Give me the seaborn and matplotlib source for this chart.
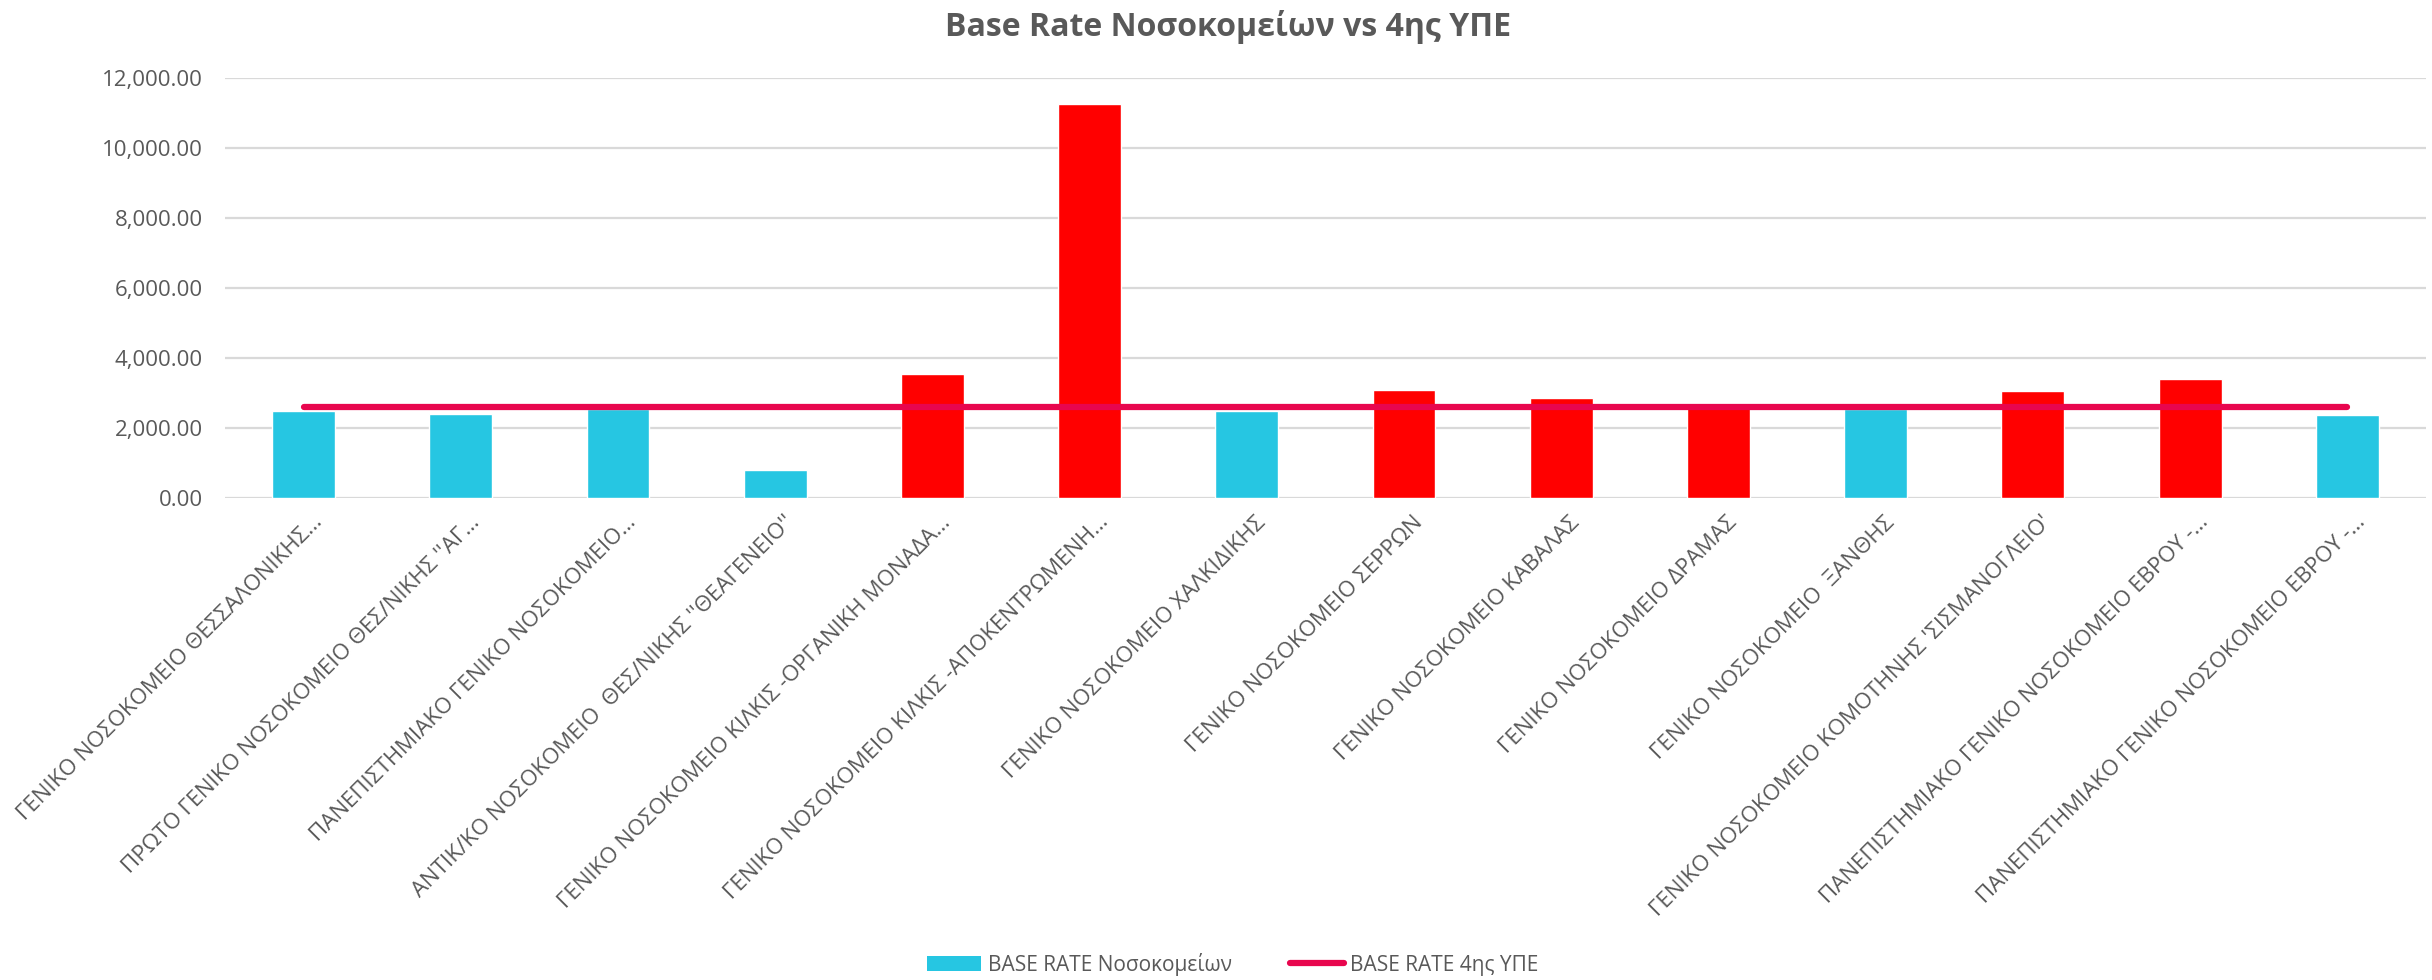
import numpy as np
import pandas as pd
import seaborn as sns
import matplotlib.pyplot as plt
from matplotlib.patches import Patch
from matplotlib.lines import Line2D
from matplotlib.transforms import ScaledTranslation

# Hospital names (as truncated on the axis) and their base rates
hospitals = [
    "ΓΕΝΙΚΟ ΝΟΣΟΚΟΜΕΙΟ ΘΕΣΣΑΛΟΝΙΚΗΣ…",
    "ΠΡΩΤΟ ΓΕΝΙΚΟ ΝΟΣΟΚΟΜΕΙΟ ΘΕΣ/ΝΙΚΗΣ ''ΑΓ…",
    "ΠΑΝΕΠΙΣΤΗΜΙΑΚΟ ΓΕΝΙΚΟ ΝΟΣΟΚΟΜΕΙΟ…",
    "ΑΝΤΙΚ/ΚΟ ΝΟΣΟΚΟΜΕΙΟ  ΘΕΣ/ΝΙΚΗΣ ''ΘΕΑΓΕΝΕΙΟ''",
    "ΓΕΝΙΚΟ ΝΟΣΟΚΟΜΕΙΟ ΚΙΛΚΙΣ -ΟΡΓΑΝΙΚΗ ΜΟΝΑΔΑ…",
    "ΓΕΝΙΚΟ ΝΟΣΟΚΟΜΕΙΟ ΚΙΛΚΙΣ -ΑΠΟΚΕΝΤΡΩΜΕΝΗ…",
    "ΓΕΝΙΚΟ ΝΟΣΟΚΟΜΕΙΟ ΧΑΛΚΙΔΙΚΗΣ",
    "ΓΕΝΙΚΟ ΝΟΣΟΚΟΜΕΙΟ ΣΕΡΡΩΝ",
    "ΓΕΝΙΚΟ ΝΟΣΟΚΟΜΕΙΟ ΚΑΒΑΛΑΣ",
    "ΓΕΝΙΚΟ ΝΟΣΟΚΟΜΕΙΟ ΔΡΑΜΑΣ",
    "ΓΕΝΙΚΟ ΝΟΣΟΚΟΜΕΙΟ  ΞΑΝΘΗΣ",
    "ΓΕΝΙΚΟ ΝΟΣΟΚΟΜΕΙΟ ΚΟΜΟΤΗΝΗΣ 'ΣΙΣΜΑΝΟΓΛΕΙΟ'",
    "ΠΑΝΕΠΙΣΤΗΜΙΑΚΟ ΓΕΝΙΚΟ ΝΟΣΟΚΟΜΕΙΟ ΕΒΡΟΥ -…",
    "ΠΑΝΕΠΙΣΤΗΜΙΑΚΟ ΓΕΝΙΚΟ ΝΟΣΟΚΟΜΕΙΟ ΕΒΡΟΥ -…",
]
hospital_rate = [2486, 2400, 2540, 810, 3534, 11249, 2476,
                 3086, 2857, 2650, 2540, 3049, 3391, 2371]
ype_rate = [2600] * 14

ytick_values = [0, 2000, 4000, 6000, 8000, 10000, 12000]

CYAN = "#26C6E2"
RED = "#FF0000"
LINE = "#E8064E"
GREY = "#595959"

df = pd.DataFrame({"hospital": [f"{i}" for i in range(len(hospitals))],
                   "rate": hospital_rate, "ype": ype_rate})
bar_colors = [RED if r > y else CYAN for r, y in zip(hospital_rate, ype_rate)]

sns.set_style("white")
plt.rcParams["font.family"] = ["Open Sans", "DejaVu Sans"]

fig = plt.figure(figsize=(24.32, 9.8), dpi=100)
ax = fig.add_axes([0.0925, 0.4918, 0.905, 0.4289])

sns.barplot(data=df, x="hospital", y="rate", hue="hospital",
            palette=bar_colors, width=0.4, legend=False, ax=ax,
            saturation=1, zorder=2)
sns.lineplot(x=np.arange(len(ype_rate)), y=ype_rate, color=LINE,
             linewidth=4.5, ax=ax, zorder=3, solid_capstyle="round")

ax.set_xlim(-0.5, len(hospitals) - 0.5)
ax.set_ylim(0, 12000)
ax.set_yticks(ytick_values)
ax.set_yticklabels([f"{v:,.2f}" for v in ytick_values], fontsize=16, color=GREY)
ax.set_xticks(range(len(hospitals)))
ax.set_xticklabels(hospitals, rotation=45, ha="right", va="top",
                   rotation_mode="anchor", fontsize=16, color=GREY)
ax.tick_params(axis="x", length=0, pad=10)
ax.tick_params(axis="y", length=0, pad=16)
# nudge the rotated labels to the right, like the original
shift = ScaledTranslation(0.08, 0, fig.dpi_scale_trans)
for lbl in ax.get_xticklabels():
    lbl.set_transform(lbl.get_transform() + shift)
ax.grid(axis="y", color="#D9D9D9", linewidth=1.6, zorder=0)
ax.set_axisbelow(True)
ax.set_xlabel("")
ax.set_ylabel("")
for s in ax.spines.values():
    s.set_visible(False)

fig.suptitle("Base Rate Νοσοκομείων vs 4ης ΥΠΕ", x=0.505, y=0.99,
             fontsize=23, fontweight="bold", color=GREY)

handles = [Patch(facecolor=CYAN, edgecolor="none"),
           Line2D([0], [0], color=LINE, linewidth=4.5, solid_capstyle="round")]
fig.legend(handles, ["BASE RATE Νοσοκομείων", "BASE RATE 4ης ΥΠΕ"],
           loc="center", bbox_to_anchor=(0.507, 0.0163), ncol=2, frameon=False,
           fontsize=15, labelcolor=GREY, handlelength=2.6, handletextpad=0.3,
           columnspacing=2.8)

fig.savefig("out.png", dpi=100)
